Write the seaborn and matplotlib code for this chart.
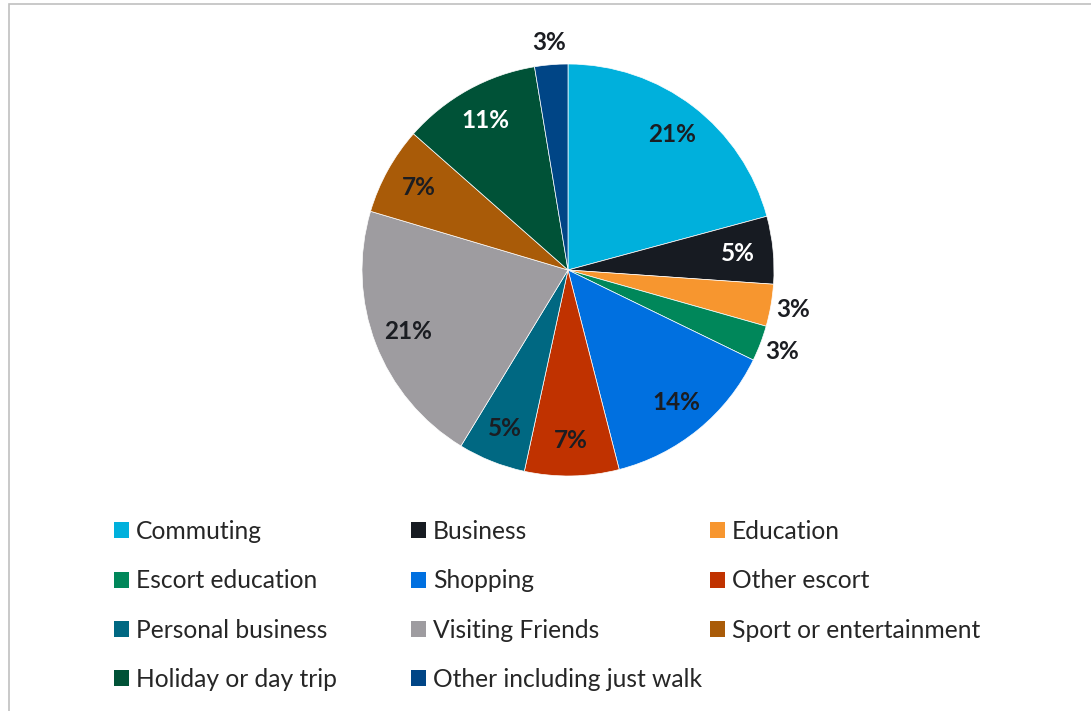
import matplotlib
matplotlib.use("Agg")
import matplotlib.pyplot as plt
from matplotlib.patches import Patch, Rectangle
import numpy as np
import seaborn as sns

# Trip purposes and their share of trips (%)
purposes = [
    "Commuting", "Business", "Education", "Escort education", "Shopping",
    "Other escort", "Personal business", "Visiting Friends",
    "Sport or entertainment", "Holiday or day trip", "Other including just walk",
]
shares = [20.8, 5.3, 3.3, 2.8, 13.8, 7.4, 5.3, 20.9, 6.9, 10.9, 2.6]
palette_hex = [
    "#00B0DC", "#171B22", "#F7962F", "#00875A", "#0070E0",
    "#C03200", "#006882", "#9E9CA0", "#A95B08", "#005237", "#004586",
]
label_colors = [
    "#1B1D22", "#FFFFFF", "#1B1D22", "#1B1D22", "#1B1D22",
    "#1B1D22", "#1B1D22", "#1B1D22", "#1B1D22", "#FFFFFF", "#1B1D22",
]

sns.set_theme(style="white")
plt.rcParams["font.family"] = ["Lato", "DejaVu Sans"]
colors = sns.color_palette(palette_hex)

W, H = 1091, 711
fig = plt.figure(figsize=(W / 100, H / 100), dpi=100)
fig.patch.set_facecolor("white")

# pie axes: centre (568, 270) px, radius 206 px
cx, cy, R = 568, 270, 206
ax = fig.add_axes([(cx - R) / W, (H - cy - R) / H, 2 * R / W, 2 * R / H])

wedges, _, pcts = ax.pie(
    shares, colors=colors, startangle=90, counterclock=False,
    autopct="%.0f%%", pctdistance=0.83, labeldistance=None,
    wedgeprops=dict(edgecolor="white", linewidth=0.5),
    textprops=dict(fontsize=17.5, fontweight="bold"),
)
ax.set_xlim(-1, 1)
ax.set_ylim(-1, 1)
ax.set_aspect("equal")

for w, t, v, c in zip(wedges, pcts, shares, label_colors):
    mid = np.deg2rad((w.theta1 + w.theta2) / 2)
    d = 1.11 if v < 4 else 0.83
    t.set_position((d * np.cos(mid), d * np.sin(mid)))
    t.set_color(c)
    t.set_ha("center")
    t.set_va("center")

# legend laid out in three fixed-width columns, filled row by row
ncols = 3
col_x = [114, 411, 710]
top_y = 520
for j in range(ncols):
    idx = list(range(j, len(purposes), ncols))
    handles = [Patch(facecolor=colors[i], edgecolor="none") for i in idx]
    labels = [purposes[i] for i in idx]
    fig.legend(
        handles, labels, loc="upper left",
        bbox_to_anchor=(col_x[j] / W, 1 - top_y / H),
        frameon=False, fontsize=17.7, borderpad=0, borderaxespad=0,
        handlelength=0.61, handleheight=0.61, handletextpad=0.28,
        labelspacing=1.07, labelcolor="#262626",
    )

# light frame along the top and left edges
fig.add_artist(Rectangle(
    (8.5 / W, -0.02), 1.05, 1.02 - 3.5 / H,
    transform=fig.transFigure, fill=False, edgecolor="#C0C0C0",
    linewidth=1.2, clip_on=False,
))

fig.savefig("out.png", dpi=100, facecolor="white")
